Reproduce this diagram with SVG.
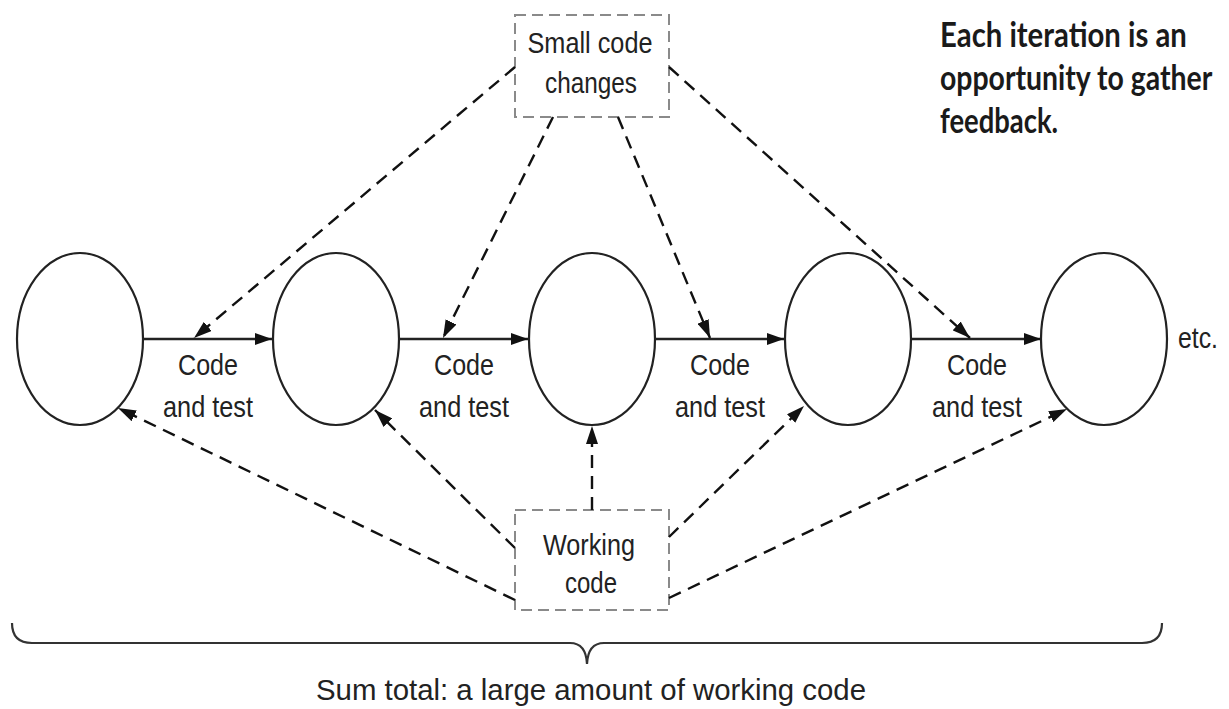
<svg xmlns="http://www.w3.org/2000/svg" width="1229" height="709" viewBox="0 0 1229 709">
  <style>
    .state { fill: #ffffff; stroke: #222222; stroke-width: 2.2; }
    .flow { fill: none; stroke: #222222; stroke-width: 2.4; }
    .link { fill: none; stroke: #111111; stroke-width: 2.4; stroke-dasharray: 13 8; }
    .box { fill: #ffffff; stroke: #8a8a8a; stroke-width: 2; stroke-dasharray: 11 6; }
    .lbl { font-family: "Liberation Sans", Arial, sans-serif; font-size: 29px; fill: #222222; text-anchor: middle; }
    .note { font-family: Lato, "Open Sans", sans-serif; font-weight: bold; font-size: 34px; fill: #1a1a1a; }
    .brace { fill: none; stroke: #333333; stroke-width: 2.2; }
  </style>
  <defs>
    <marker id="solidHead" markerUnits="userSpaceOnUse" markerWidth="17" markerHeight="12" refX="17" refY="6" orient="auto">
      <path d="M0,0 L17,6 L0,12 z" fill="#111111"/>
    </marker>
    <marker id="dashHead" markerUnits="userSpaceOnUse" markerWidth="18" markerHeight="12" refX="18" refY="6" orient="auto">
      <path d="M0,0 L18,6 L0,12 z" fill="#111111"/>
    </marker>
  </defs>

  <rect width="1229" height="709" fill="#ffffff"/>

  <!-- iteration states -->
  <g id="state1"><ellipse class="state" cx="80" cy="339" rx="63" ry="86"/></g>
  <g id="state2"><ellipse class="state" cx="336" cy="339" rx="63" ry="86"/></g>
  <g id="state3"><ellipse class="state" cx="592" cy="339" rx="63" ry="86"/></g>
  <g id="state4"><ellipse class="state" cx="848" cy="339" rx="63" ry="86"/></g>
  <g id="state5"><ellipse class="state" cx="1104" cy="339" rx="63" ry="86"/></g>

  <!-- source boxes -->
  <g id="smallChanges">
    <rect class="box" x="515" y="15" width="154" height="102"/>
    <text class="lbl" x="590" y="53" textLength="125" lengthAdjust="spacingAndGlyphs">Small code</text>
    <text class="lbl" x="591" y="93" textLength="92" lengthAdjust="spacingAndGlyphs">changes</text>
  </g>
  <g id="workingCode">
    <rect class="box" x="515" y="510" width="154" height="100"/>
    <text class="lbl" x="589" y="555" textLength="92" lengthAdjust="spacingAndGlyphs">Working</text>
    <text class="lbl" x="591" y="593" textLength="52" lengthAdjust="spacingAndGlyphs">code</text>
  </g>

  <!-- connectors -->
  <g id="connectors">
    <!-- code and test steps -->
    <line class="flow" x1="143" y1="339" x2="272" y2="339" marker-end="url(#solidHead)"/>
    <line class="flow" x1="399" y1="339" x2="528" y2="339" marker-end="url(#solidHead)"/>
    <line class="flow" x1="655" y1="339" x2="784" y2="339" marker-end="url(#solidHead)"/>
    <line class="flow" x1="911" y1="339" x2="1041" y2="339" marker-end="url(#solidHead)"/>

    <!-- small code changes feed each step -->
    <line class="link" x1="515" y1="67" x2="194" y2="338" marker-end="url(#dashHead)"/>
    <line class="link" x1="553" y1="117" x2="443" y2="338" marker-end="url(#dashHead)"/>
    <line class="link" x1="618" y1="117" x2="710" y2="338" marker-end="url(#dashHead)"/>
    <line class="link" x1="669" y1="67" x2="970" y2="338" marker-end="url(#dashHead)"/>

    <!-- working code at each state -->
    <line class="link" x1="515" y1="600" x2="118" y2="408" marker-end="url(#dashHead)"/>
    <line class="link" x1="515" y1="548" x2="375" y2="410" marker-end="url(#dashHead)"/>
    <line class="link" x1="592" y1="510" x2="592" y2="426" marker-end="url(#dashHead)"/>
    <line class="link" x1="669" y1="537" x2="804" y2="406" marker-end="url(#dashHead)"/>
    <line class="link" x1="669" y1="598" x2="1067" y2="409" marker-end="url(#dashHead)"/>
  </g>

  <!-- step labels -->
  <g id="stepLabels">
    <text class="lbl" x="208" y="375" textLength="60" lengthAdjust="spacingAndGlyphs">Code</text>
    <text class="lbl" x="208" y="417" textLength="90" lengthAdjust="spacingAndGlyphs">and test</text>
    <text class="lbl" x="464" y="375" textLength="60" lengthAdjust="spacingAndGlyphs">Code</text>
    <text class="lbl" x="464" y="417" textLength="90" lengthAdjust="spacingAndGlyphs">and test</text>
    <text class="lbl" x="720" y="375" textLength="60" lengthAdjust="spacingAndGlyphs">Code</text>
    <text class="lbl" x="720" y="417" textLength="90" lengthAdjust="spacingAndGlyphs">and test</text>
    <text class="lbl" x="977" y="375" textLength="60" lengthAdjust="spacingAndGlyphs">Code</text>
    <text class="lbl" x="977" y="417" textLength="90" lengthAdjust="spacingAndGlyphs">and test</text>
    <text class="lbl" x="1198" y="348" textLength="40" lengthAdjust="spacingAndGlyphs">etc.</text>
  </g>

  <!-- callout, set in a horizontally condensed frame -->
  <g id="callout" transform="translate(940,0) scale(0.82,1)">
    <text class="note" x="0" y="47" textLength="301" lengthAdjust="spacingAndGlyphs">Each iteration is an</text>
    <text class="note" x="0" y="90" textLength="332" lengthAdjust="spacingAndGlyphs">opportunity to gather</text>
    <text class="note" x="0" y="133" textLength="144" lengthAdjust="spacingAndGlyphs">feedback.</text>
  </g>

  <!-- summary brace -->
  <g id="summary">
    <path class="brace" d="M12,623 Q12,643 32,643 L570,643 Q586,643 587,664 Q588,643 604,643 L1142,643 Q1162,643 1162,623"/>
    <text class="lbl" x="591" y="700" textLength="550" lengthAdjust="spacingAndGlyphs">Sum total: a large amount of working code</text>
  </g>
</svg>
